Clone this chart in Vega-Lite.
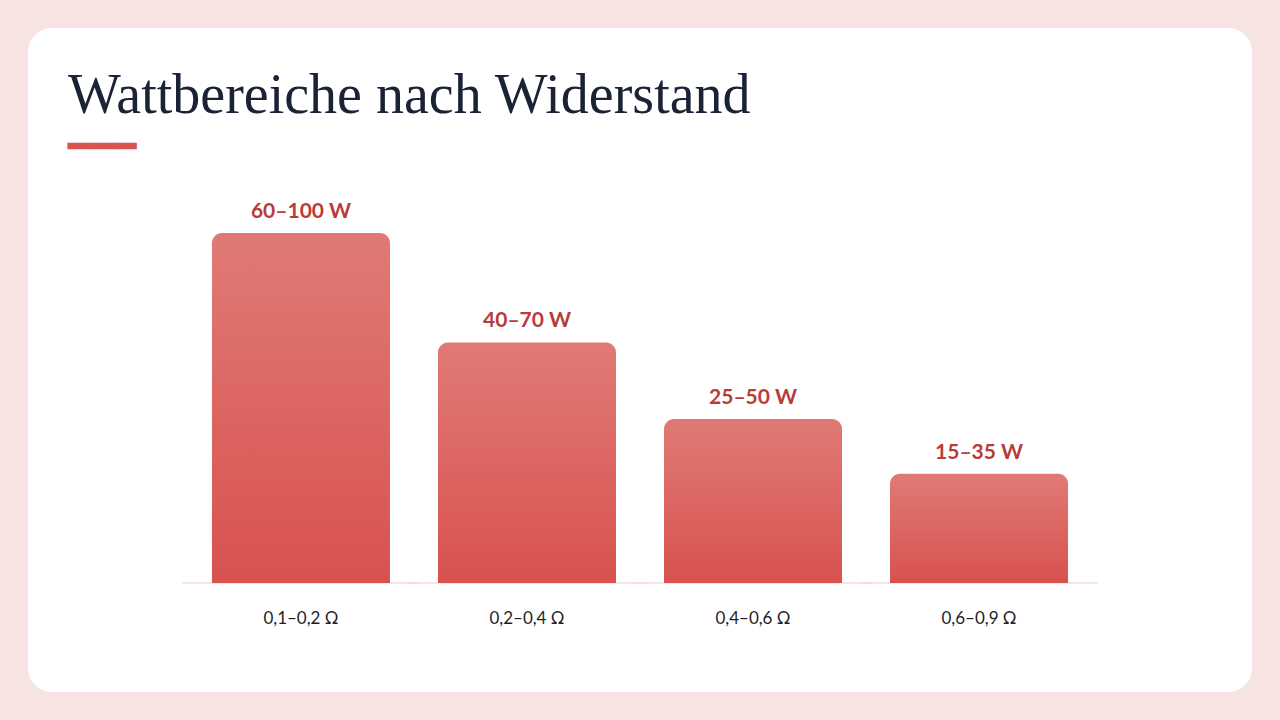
{
  "$schema": "https://vega.github.io/schema/vega-lite/v6.json",
  "width": 1224,
  "height": 664,
  "autosize": {"type": "none"},
  "padding": 28,
  "background": "#f7e3e2",
  "title": {
    "text": "Wattbereiche nach Widerstand",
    "subtitle": "━━━",
    "anchor": "start",
    "frame": "group",
    "orient": "top",
    "offset": -140,
    "dx": 40,
    "font": "Liberation Serif",
    "fontSize": 56,
    "fontWeight": "normal",
    "color": "#1b2236",
    "subtitleFont": "DejaVu Sans Mono",
    "subtitleFontSize": 38,
    "subtitleColor": "#d9534f",
    "subtitlePadding": 4
  },
  "data": {
    "values": [
      {"cat": "0,1–0,2 Ω", "label": "60–100 W", "mid": 80},
      {"cat": "0,2–0,4 Ω", "label": "40–70 W", "mid": 55},
      {"cat": "0,4–0,6 Ω", "label": "25–50 W", "mid": 37.5},
      {"cat": "0,6–0,9 Ω", "label": "15–35 W", "mid": 25}
    ]
  },
  "encoding": {
    "x": {
      "field": "cat",
      "type": "nominal",
      "sort": null,
      "scale": {"paddingInner": 0.2124, "paddingOuter": 0.814},
      "axis": {
        "title": null,
        "orient": "bottom",
        "offset": -109,
        "domain": false,
        "ticks": false,
        "labelPadding": 27,
        "labelAngle": 0,
        "labelFont": "Lato",
        "labelFontSize": 17,
        "labelColor": "#1e1e2a"
      }
    }
  },
  "layer": [
    {
      "mark": {"type": "tick", "color": "#f3dad7", "thickness": 2, "size": 238},
      "encoding": {
        "y": {"datum": 0, "type": "quantitative", "scale": {"domain": [-24.914, 126.857]}, "axis": null}
      }
    },
    {
      "mark": {
        "type": "bar",
        "cornerRadiusTopLeft": 10,
        "cornerRadiusTopRight": 10,
        "color": {
          "gradient": "linear",
          "x1": 0, "y1": 0, "x2": 0, "y2": 1,
          "stops": [
            {"offset": 0, "color": "#e07a76"},
            {"offset": 1, "color": "#d8524e"}
          ]
        }
      },
      "encoding": {
        "y": {"field": "mid", "type": "quantitative", "scale": {"domain": [-24.914, 126.857]}, "axis": null},
        "y2": {"datum": 0}
      }
    },
    {
      "mark": {
        "type": "text",
        "baseline": "alphabetic",
        "align": "center",
        "dy": -15,
        "font": "Lato",
        "fontWeight": "bold",
        "fontSize": 21,
        "color": "#b83c38"
      },
      "encoding": {
        "y": {"field": "mid", "type": "quantitative", "scale": {"domain": [-24.914, 126.857]}, "axis": null},
        "text": {"field": "label"}
      }
    }
  ],
  "config": {
    "view": {"fill": "#ffffff", "stroke": null, "cornerRadius": 24}
  }
}
